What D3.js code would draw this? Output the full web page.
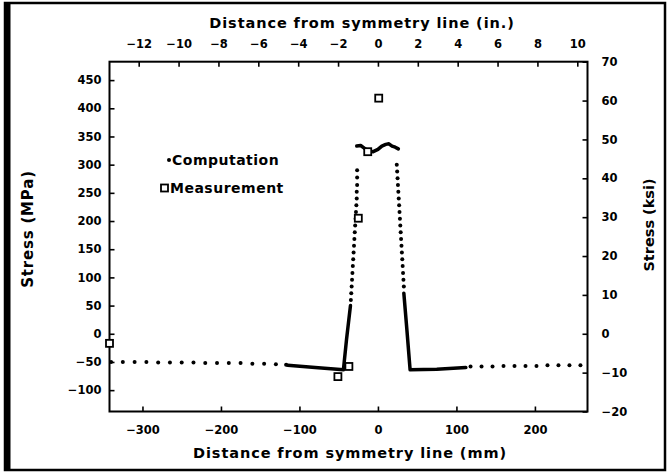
<!DOCTYPE html>
<html>
<head>
<meta charset="utf-8">
<script src="https://cdn.jsdelivr.net/npm/d3@7"></script>
<style>
  body { margin: 0; background: #fff; }
  svg { display: block; font-family: "DejaVu Sans", sans-serif; font-weight: bold; }
</style>
</head>
<body>
<div id="chart"></div>
<script>
// axis ranges and ticks
var mmDomain = [-342, 267],
	ksiDomain = [-20, 70],
	mmTicks = [-300, -200, -100, 0, 100, 200],
	inTicks = [-12, -10, -8, -6, -4, -2, 0, 2, 4, 6, 8, 10],
	mpaTicks = [-100, -50, 0, 50, 100, 150, 200, 250, 300, 350, 400, 450],
	ksiTicks = [-20, -10, 0, 10, 20, 30, 40, 50, 60, 70];

// computation - sparse dots (mm, MPa)
var dotX = [-340, -325, -310, -295, -280, -265, -250, -235, -220, -205, -190, -175, -160, -145, -130, -117,
	-34.5, -34, -33.5, -33, -32.5, -32, -31.5, -31, -30.5, -30, -29.5, -29, -28.5, -28, -27.5, -27, -27, -26.5, -26.5, -26.5,
	24, 24.5, 25, 25.5, 26, 26.5, 27, 27.5, 28, 28.5, 29, 29.5, 30, 30.5, 31, 31.5, 32, 32.5, 33,
	118, 132, 146, 160, 174, 188, 202, 216, 230, 244, 258];
var dotY = [-50, -50, -50, -50, -51, -51, -51, -51, -52, -52, -52, -52, -53, -53, -54, -55,
	60, 72, 84, 96, 108, 120, 132, 144, 156, 168, 180, 192, 204, 216, 228, 240, 252, 264, 277, 290,
	300, 288, 276, 264, 252, 240, 228, 216, 204, 192, 180, 168, 156, 144, 132, 120, 108, 96, 84,
	-58, -58, -58, -57, -57, -57, -57, -56, -56, -56, -56];

// computation - dense runs, drawn solid
var leftRunX = [-115, -80, -44, -40, -35],
	leftRunY = [-56, -60, -64, -10, 50];
var topRunX = [-27, -22, -17, -12, -6, 0, 5, 10, 14, 18, 22, 26],
	topRunY = [333, 334, 329, 324, 323, 327, 333, 336, 337, 333, 331, 328];
var rightRunX = [33, 37, 41, 75, 112],
	rightRunY = [72, 5, -64, -63, -60];

// measurements (mm, MPa)
var measX = [-342, -51, -37, -25, -13, 1],
	measY = [-17, -76, -58, 205, 323, 418];

var W = 669, H = 473,
	margin = {top: 61.7, right: 81.5, bottom: 61.5, left: 109.5},
	w = W - margin.left - margin.right,
	h = H - margin.top - margin.bottom;

var svg = d3.select("#chart").append("svg").attr("width", W).attr("height", H);

// scanned page border
svg.append("rect").attr("x", 5).attr("y", 3).attr("width", 660).attr("height", 467)
	.attr("fill", "none").attr("stroke", "#000").attr("stroke-width", 2.5);
svg.append("rect").attr("x", 4).attr("y", 2).attr("width", 6.5).attr("height", 469).attr("fill", "#000");

var g = svg.append("g").attr("transform", "translate(" + margin.left + "," + margin.top + ")");

var x = d3.scaleLinear().domain(mmDomain).range([0, w]),
	xIn = d3.scaleLinear().domain(mmDomain.map(function(d){ return d / 25.4 })).range([0, w]),
	yM = d3.scaleLinear().domain(ksiDomain.map(function(d){ return d * 6.895 })).range([h, 0]),
	yK = d3.scaleLinear().domain(ksiDomain).range([h, 0]);

function styleAxis(sel) {
	sel.select(".domain").remove();
	sel.selectAll(".tick line").attr("stroke", "#000").attr("stroke-width", 1.6);
	sel.selectAll(".tick text").attr("fill", "#000").attr("font-size", 11.5).attr("font-weight", "bold")
		.attr("font-family", "DejaVu Sans, sans-serif");
}

g.append("g").attr("transform", "translate(0," + h + ")")
	.call(d3.axisBottom(x).tickValues(mmTicks).tickSizeInner(-5).tickSizeOuter(0).tickPadding(14))
	.call(styleAxis);
g.append("g")
	.call(d3.axisTop(xIn).tickValues(inTicks).tickSizeInner(-5).tickSizeOuter(0).tickPadding(13.5))
	.call(styleAxis);
g.append("g")
	.call(d3.axisLeft(yM).tickValues(mpaTicks).tickSizeInner(-5).tickSizeOuter(0).tickPadding(8))
	.call(styleAxis);
g.append("g").attr("transform", "translate(" + w + ",0)")
	.call(d3.axisRight(yK).tickValues(ksiTicks).tickSizeInner(-5).tickSizeOuter(0).tickPadding(14))
	.call(styleAxis);

// frame
g.append("rect").attr("width", w).attr("height", h)
	.attr("fill", "none").attr("stroke", "#000").attr("stroke-width", 2);

// axis titles
svg.append("text").attr("x", 362).attr("y", 28).attr("text-anchor", "middle")
	.attr("font-size", 14.5).attr("letter-spacing", 0.9).text("Distance from symmetry line (in.)");
svg.append("text").attr("x", 350).attr("y", 457.5).attr("text-anchor", "middle")
	.attr("font-size", 14.5).attr("letter-spacing", 0.9).text("Distance from symmetry line (mm)");
svg.append("text").attr("transform", "translate(33,229) rotate(-90)").attr("text-anchor", "middle")
	.attr("font-size", 15).attr("letter-spacing", 0.8).text("Stress (MPa)");
svg.append("text").attr("transform", "translate(654,225) rotate(-90)").attr("text-anchor", "middle")
	.attr("font-size", 14.5).text("Stress (ksi)");

// solid runs of the computation
var line = d3.line().x(function(d){ return x(d[0]) }).y(function(d){ return yM(d[1]) });
[[leftRunX, leftRunY], [topRunX, topRunY], [rightRunX, rightRunY]].forEach(function(run){
	g.append("path").datum(d3.zip(run[0], run[1])).attr("d", line)
		.attr("fill", "none").attr("stroke", "#000").attr("stroke-width", 3.5)
		.attr("stroke-linejoin", "round").attr("stroke-linecap", "round");
});

// computation dots
g.selectAll("circle.comp").data(d3.zip(dotX, dotY)).enter().append("circle")
	.attr("class", "comp")
	.attr("cx", function(d){ return x(d[0]) })
	.attr("cy", function(d){ return yM(d[1]) })
	.attr("r", 2).attr("fill", "#000");

// measurement boxes
g.selectAll("rect.meas").data(d3.zip(measX, measY)).enter().append("rect")
	.attr("class", "meas")
	.attr("x", function(d){ return x(d[0]) - 3.5 })
	.attr("y", function(d){ return yM(d[1]) - 3.5 })
	.attr("width", 7).attr("height", 7)
	.attr("fill", "#fff").attr("stroke", "#000").attr("stroke-width", 1.8);

// legend
var legend = svg.append("g").attr("font-size", 14).attr("letter-spacing", 0.5);
legend.append("circle").attr("cx", 169).attr("cy", 160).attr("r", 2).attr("fill", "#000");
legend.append("text").attr("x", 172).attr("y", 165).text("Computation");
legend.append("rect").attr("x", 161).attr("y", 184.5).attr("width", 7).attr("height", 7)
	.attr("fill", "#fff").attr("stroke", "#000").attr("stroke-width", 1.8);
legend.append("text").attr("x", 170).attr("y", 193).text("Measurement");
</script>
</body>
</html>
